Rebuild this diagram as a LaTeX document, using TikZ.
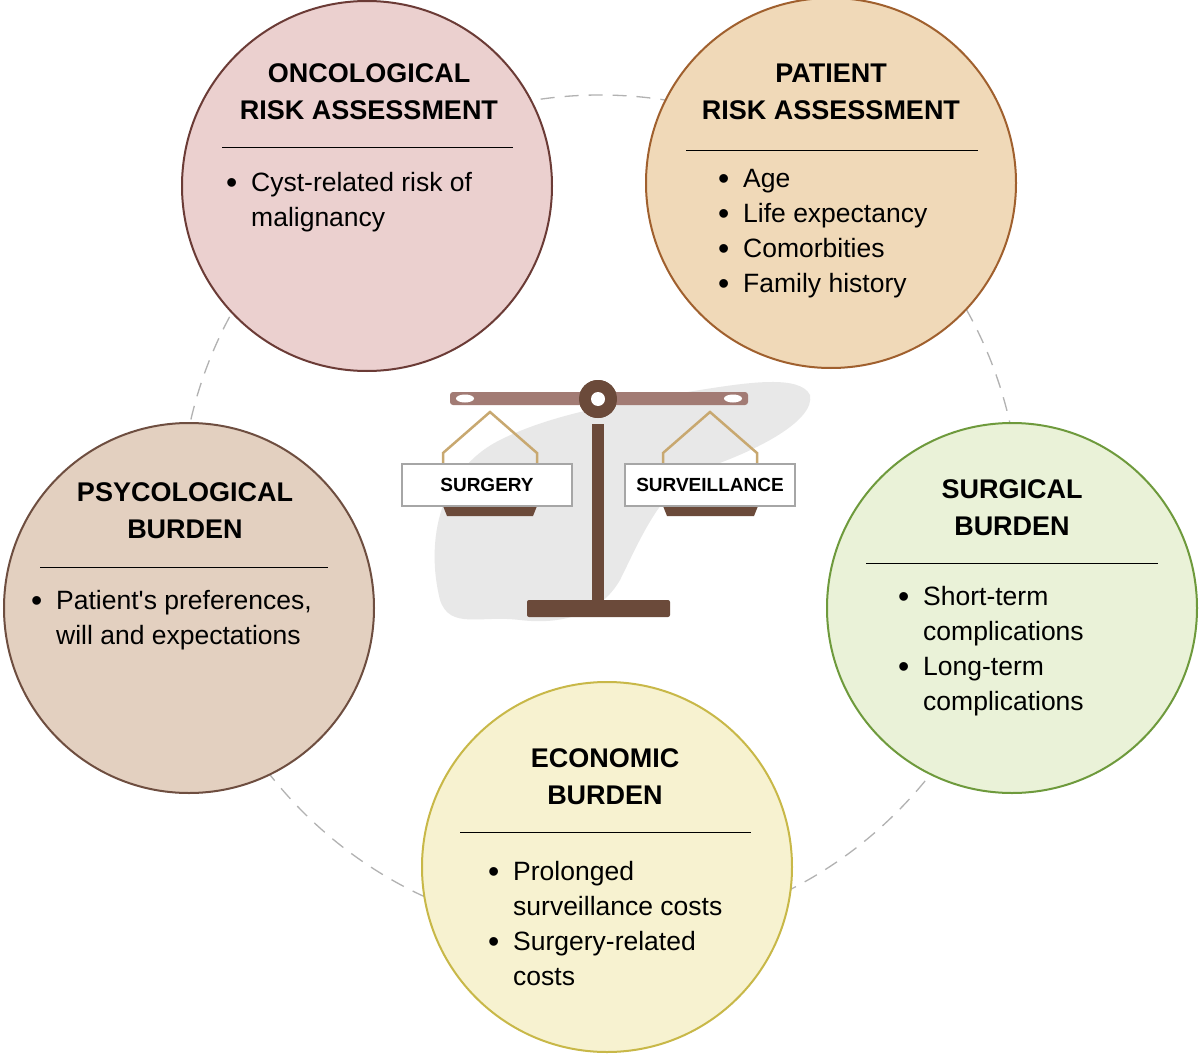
\documentclass[tikz,border=0pt]{standalone}
\usepackage{fontspec}
\setmainfont{Liberation Sans}
\begin{document}
\begin{tikzpicture}[x=1pt,y=-1pt,
  circ/.style={circle,minimum size=370pt,line width=2pt,inner sep=0pt},
  ttl/.style={font=\fontsize{27}{37}\selectfont\bfseries,align=center,inner sep=0pt,anchor=center},
  body/.style={font=\fontsize{26.5}{35}\selectfont,align=left,inner sep=0pt,anchor=north west},
  sep/.style={line width=1pt,black},
  lab/.style={draw=gray!70,line width=2.5pt,fill=white,minimum width=170pt,minimum height=42pt,font=\fontsize{19}{22}\selectfont\bfseries,inner sep=0pt}]
\newcommand{\bul}{\makebox[25pt][l]{\raisebox{-2pt}{\fontsize{32}{32}\selectfont\textbullet}}}
\newcommand{\ind}{\hspace{25pt}}
\definecolor{onf}{HTML}{EBD0CF}\definecolor{ond}{HTML}{6B3B36}
\definecolor{paf}{HTML}{F0D9B8}\definecolor{pad}{HTML}{A0602E}
\definecolor{psf}{HTML}{E3D0C0}\definecolor{psd}{HTML}{6E4E40}
\definecolor{suf}{HTML}{EAF2D8}\definecolor{sud}{HTML}{6E9A3C}
\definecolor{ecf}{HTML}{F7F2D0}\definecolor{ecd}{HTML}{C8B848}
\definecolor{beam}{HTML}{A27B74}\definecolor{post}{HTML}{6B4A3A}\definecolor{rope}{HTML}{C8A870}
\useasboundingbox (0,0) rectangle (1200,1057);
\fill[white] (0,0) rectangle (1200,1057);
\draw[gray!60,line width=1.3pt,dash pattern=on 14pt off 10pt] (600,515) circle[radius=420];
% pancreas silhouette
\fill[gray!18] (440,600) .. controls (425,540) and (440,470) .. (500,440)
  .. controls (560,410) and (640,400) .. (700,390)
  .. controls (750,382) and (800,375) .. (810,395)
  .. controls (815,420) and (760,450) .. (700,470)
  .. controls (660,490) and (640,540) .. (620,580)
  .. controls (600,615) and (560,625) .. (520,620)
  .. controls (480,615) and (450,630) .. (440,600) -- cycle;
% scale
\node[circle,fill=post,minimum size=38pt,inner sep=0pt] (pv) at (598,399) {};
\fill[beam,rounded corners=3pt] (450,392) rectangle (748,405);
\fill[white] (465,398.5) ellipse[x radius=9,y radius=4];
\fill[white] (733,398.5) ellipse[x radius=9,y radius=4];
\fill[post] (598,399) circle[radius=19];
\fill[white] (598,399) circle[radius=7];
\fill[post] (592,424) rectangle (604,602);
\fill[post,rounded corners=2pt] (527,600) rectangle (670,617);
\draw[rope,line width=2.5pt] (443,463) -- (443,453) -- (490,412) -- (537,453) -- (537,463);
\draw[rope,line width=2.5pt] (663,463) -- (663,453) -- (710,412) -- (757,453) -- (757,463);
\fill[post] (443,506) -- (537,506) -- (533,516) -- (447,516) -- cycle;
\fill[post] (663,506) -- (758,506) -- (754,516) -- (667,516) -- cycle;
\node[lab] (surg) at (487,485) {SURGERY};
\node[lab] (surv) at (710,485) {SURVEILLANCE};
% circles
\node[circ,fill=onf,draw=ond] (on) at (367,186) {};
\node[circ,fill=paf,draw=pad] (pa) at (831,183) {};
\node[circ,fill=psf,draw=psd] (ps) at (189,608) {};
\node[circ,fill=suf,draw=sud] (su) at (1012,608) {};
\node[circ,fill=ecf,draw=ecd] (ec) at (607,867) {};
% oncological
\node[ttl] (ont) at (369,92) {ONCOLOGICAL\\RISK ASSESSMENT};
\draw[sep] (222,147) -- (513,147);
\node[body] (onb) at (226,172) {\bul Cyst-related risk of\\\ind malignancy};
% patient
\node[ttl] (pat) at (831,92) {PATIENT\\RISK ASSESSMENT};
\draw[sep] (686,150) -- (978,150);
\node[body] (pab) at (718,169) {\bul Age\\\bul Life expectancy\\\bul Comorbities\\\bul Family history};
% psych
\node[ttl] (pst) at (185,511) {PSYCOLOGICAL\\BURDEN};
\draw[sep] (40,567) -- (328,567);
\node[body] (psb) at (31,590) {\bul Patient\textquotesingle s preferences,\\\ind will and expectations};
% surgical
\node[ttl] (sut) at (1012,508) {SURGICAL\\BURDEN};
\draw[sep] (866,563) -- (1158,563);
\node[body] (sub) at (898,586) {\bul Short-term\\\ind complications\\\bul Long-term\\\ind complications};
% economic
\node[ttl] (ect) at (605,777) {ECONOMIC\\BURDEN};
\draw[sep] (460,832) -- (751,832);
\node[body] (ecb) at (488,861) {\bul Prolonged\\\ind surveillance costs\\\bul Surgery-related\\\ind costs};
\end{tikzpicture}
\end{document}
